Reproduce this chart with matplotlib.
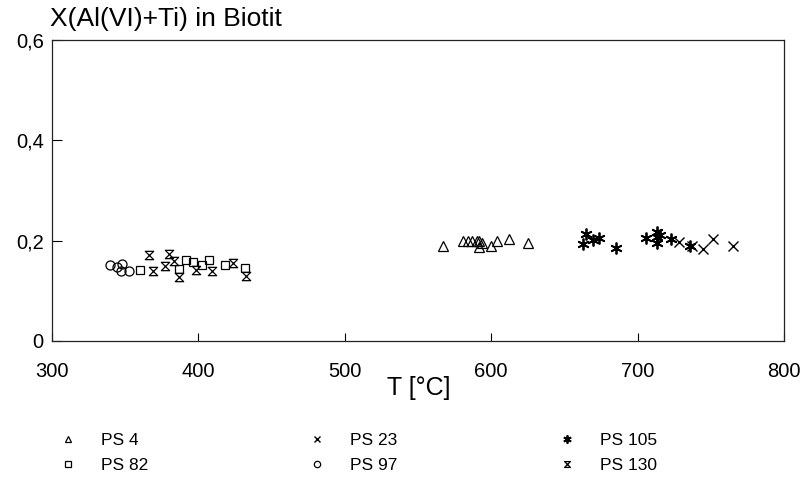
import matplotlib
matplotlib.use("Agg")
import matplotlib.pyplot as plt
from matplotlib.path import Path

plt.rcParams['font.family'] = ['Liberation Sans', 'DejaVu Sans']

# ---- data (T in °C, X(Al(VI)+Ti)) ----
ps4_T = [567, 581, 584, 587, 590, 592, 593.5, 592, 600, 604, 612, 625]
ps4_X = [0.190, 0.200, 0.200, 0.200, 0.200, 0.199, 0.196, 0.187, 0.189, 0.200, 0.203, 0.196]

ps82_T = [360, 387, 391.5, 396.5, 402.3, 407.5, 418.2, 431.8]
ps82_X = [0.141, 0.144, 0.161, 0.157, 0.152, 0.161, 0.152, 0.146]

ps23_T = [728, 737, 745, 751.3, 765]
ps23_X = [0.198, 0.190, 0.183, 0.203, 0.189]

ps97_T = [339.6, 344.6, 347.6, 346.9, 352.8]
ps97_X = [0.151, 0.148, 0.154, 0.140, 0.140]

ps105_T = [663, 664.8, 669.3, 673.8, 685.2, 706, 713, 713, 713.5, 715, 722.5, 735.8]
ps105_X = [0.193, 0.214, 0.202, 0.205, 0.185, 0.205, 0.218, 0.207, 0.196, 0.212, 0.204, 0.189]

ps130_T = [366.5, 369.2, 377.2, 380, 383.3, 387, 398.4, 409, 423.4, 432.3]
ps130_X = [0.171, 0.139, 0.149, 0.173, 0.159, 0.127, 0.142, 0.139, 0.155, 0.129]

labels = ["PS 4", "PS 82", "PS 23", "PS 97", "PS 105", "PS 130"]
x_ticks = [300, 400, 500, 600, 700, 800]
y_ticks = [0, 0.2, 0.4, 0.6]
y_ticklabels = ["0", "0,2", "0,4", "0,6"]

# hourglass marker
hourglass = Path([(-1, 1), (1, 1), (-1, -1), (1, -1), (-1, 1)],
                 [Path.MOVETO, Path.LINETO, Path.LINETO, Path.LINETO, Path.CLOSEPOLY])
asterisk = (6, 2, 0)

fig = plt.figure(figsize=(8.08, 4.93), dpi=100)
ax = fig.add_axes([52/808, 1-341/493, 732/808, 301/493])

common = dict(linestyle='none', color='black', markerfacecolor='none', markeredgecolor='black')
series = [
    (ps4_T, ps4_X, '^', 6.5, 0.9),
    (ps82_T, ps82_X, 's', 6, 0.9),
    (ps23_T, ps23_X, 'x', 6.5, 1.0),
    (ps97_T, ps97_X, 'o', 6.5, 0.9),
    (ps105_T, ps105_X, asterisk, 8.5, 1.3),
    (ps130_T, ps130_X, hourglass, 6, 0.9),
]
handles = []
for (t, xv, m, ms, mew), lab in zip(series, labels):
    h, = ax.plot(t, xv, marker=m, markersize=ms, markeredgewidth=mew, label=lab, **common)
    handles.append(h)

ax.set_xlim(300, 800)
ax.set_ylim(0, 0.6)
ax.set_xticks(x_ticks)
ax.set_xticklabels([str(v) for v in x_ticks])
ax.set_yticks(y_ticks)
ax.set_yticklabels(y_ticklabels)
ax.tick_params(direction='in', width=0.8, labelsize=14.5, top=False, right=False)
ax.tick_params(axis='x', length=6, pad=15)
ax.tick_params(axis='y', length=7, pad=6)
for s in ax.spines.values():
    s.set_linewidth(0.9)
    s.set_color('#222222')

fig.text(419/808, 1-388/493, "T [°C]", fontsize=18, ha='center', va='center')
fig.text(50/808, 1-19/493, "X(Al(VI)+Ti) in Biotit", fontsize=19, ha='left', va='center')

leg = fig.legend(handles=handles, labels=labels, ncol=3, loc='upper left',
                 bbox_to_anchor=(48/808, 1-426/493), frameon=False,
                 fontsize=12.5, markerscale=0.7, handlelength=1.5, handletextpad=1.15,
                 columnspacing=9.0, labelspacing=0.55, borderaxespad=0)

fig.savefig("out.png", dpi=100)
